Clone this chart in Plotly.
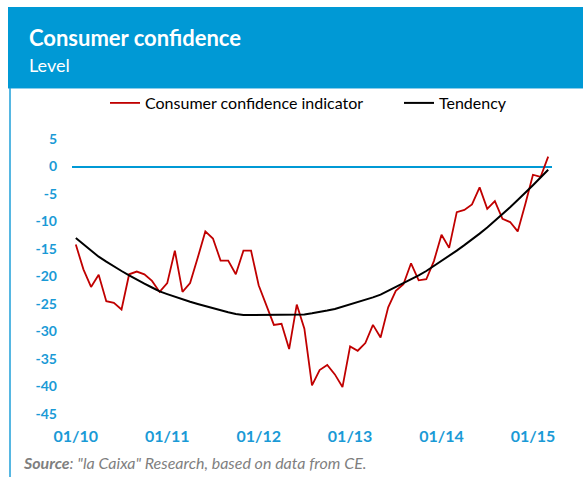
import plotly.graph_objects as go

W, H = 583, 477

months = [f"{m:02d}/{y:02d}" for y in range(10, 16) for m in range(1, 13)][:63]

consumer_confidence = [
    -14.2, -18.7, -21.9, -19.7, -24.5, -24.8, -26.0, -19.6, -19.1, -19.6, -20.8, -22.8,
    -21.2, -15.3, -22.8, -21.2, -16.6, -11.8, -13.1, -17.1, -17.1, -19.6, -15.3, -15.3,
    -21.6, -25.3, -28.8, -28.6, -33.2, -25.1, -29.5, -39.8, -37.0, -36.1, -37.8, -40.1,
    -32.7, -33.5, -32.1, -28.8, -31.1, -25.6, -22.6, -21.4, -17.6, -20.7, -20.5, -17.2,
    -12.4, -14.8, -8.3, -7.9, -6.9, -3.8, -7.7, -6.3, -9.5, -10.1, -11.8, -6.8,
    -1.5, -1.9, 1.8,
]

tendency = [
    -13.0, -14.1, -15.3, -16.4, -17.3, -18.2, -19.0, -19.8, -20.6, -21.3, -22.0, -22.7,
    -23.2, -23.7, -24.2, -24.6, -25.0, -25.4, -25.8, -26.2, -26.5, -26.8, -27.0, -27.0,
    -27.0, -27.0, -27.0, -27.0, -27.0, -27.0, -26.9, -26.7, -26.5, -26.2, -25.9, -25.5,
    -25.1, -24.7, -24.3, -23.8, -23.3, -22.6, -22.0, -21.3, -20.6, -19.8, -19.0, -18.1,
    -17.2, -16.3, -15.3, -14.3, -13.3, -12.2, -11.1, -9.9, -8.7, -7.4, -6.1, -4.8,
    -3.4, -2.0, -0.6,
]

x_tick_labels = ["01/10", "01/11", "01/12", "01/13", "01/14", "01/15"]
y_ticks = [5, 0, -5, -10, -15, -20, -25, -30, -35, -40, -45]

BLUE = "#0099D5"
LABEL_BLUE = "#1A9AD6"
FONT = "Lato"

def px(x):
    return x / W

def py(y):
    return 1 - y / H

fig = go.Figure()
fig.add_trace(go.Scatter(x=months, y=consumer_confidence, mode="lines",
                         name="Consumer confidence indicator", legend="legend",
                         line=dict(color="#C00000", width=1.8)))
fig.add_trace(go.Scatter(x=months, y=tendency, mode="lines", name="Tendency",
                         legend="legend2",
                         line=dict(color="#000000", width=2)))

legend_common = dict(orientation="h", xanchor="left", yanchor="middle",
                     font=dict(size=16, family=FONT, color="#000000"),
                     bgcolor="rgba(0,0,0,0)")

fig.update_layout(
    width=W, height=H,
    margin=dict(l=0, r=0, t=0, b=0, pad=0, autoexpand=False),
    paper_bgcolor="white", plot_bgcolor="white",
    font=dict(family=FONT, color="#000000"),
    showlegend=True,
    legend=dict(x=px(105), y=py(103), **legend_common),
    legend2=dict(x=px(399), y=py(103), **legend_common),
    xaxis=dict(type="category", domain=[px(72), px(552)], range=[-0.5, 62.5],
               tickmode="array", tickvals=x_tick_labels, ticktext=x_tick_labels,
               showgrid=False, showline=False, zeroline=False, ticks="",
               automargin=False, ticklabelstandoff=11,
               tickfont=dict(size=16, family=FONT, color=LABEL_BLUE, weight="bold"),
               anchor="y"),
    yaxis=dict(domain=[py(414), py(139)], range=[-45, 5], tickmode="array",
               tickvals=y_ticks, ticktext=[str(v) for v in y_ticks],
               showgrid=False, showline=False, ticks="", automargin=False,
               zeroline=True, zerolinecolor=BLUE, zerolinewidth=2,
               ticklabelstandoff=14,
               tickfont=dict(size=14, family=FONT, color=LABEL_BLUE, weight="bold")),
)

# header band
fig.add_shape(type="rect", xref="paper", yref="paper", x0=px(8), x1=1.0,
              y0=py(88), y1=py(7), fillcolor=BLUE, line=dict(width=0), layer="below")
fig.add_shape(type="line", xref="paper", yref="paper", x0=px(8), x1=1.0,
              y0=py(88.5), y1=py(88.5), line=dict(color="#8ACDEB", width=1))
# left rule
fig.add_shape(type="line", xref="paper", yref="paper", x0=px(10), x1=px(10),
              y0=0, y1=py(88), line=dict(color="#1E9FD8", width=1.5))

fig.add_annotation(xref="paper", yref="paper", x=px(27), y=py(37), xanchor="left",
                   yanchor="middle", showarrow=False, text="<b>Consumer confidence</b>",
                   font=dict(size=22, family=FONT, color="white"))
fig.add_annotation(xref="paper", yref="paper", x=px(27), y=py(65), xanchor="left",
                   yanchor="middle", showarrow=False, text="Level",
                   font=dict(size=18, family=FONT, color="white"))
fig.add_annotation(xref="paper", yref="paper", x=px(21), y=py(462), xanchor="left",
                   yanchor="middle", showarrow=False,
                   text="<b><i>Source</i></b><i>: \"la Caixa\" Research, based on data from CE.</i>",
                   font=dict(size=16, family=FONT, color="#7F7F7F"))

fig.write_html("out.html", config={"displayModeBar": False},
               post_script="document.body.style.margin='0';document.body.style.overflow='hidden';")
